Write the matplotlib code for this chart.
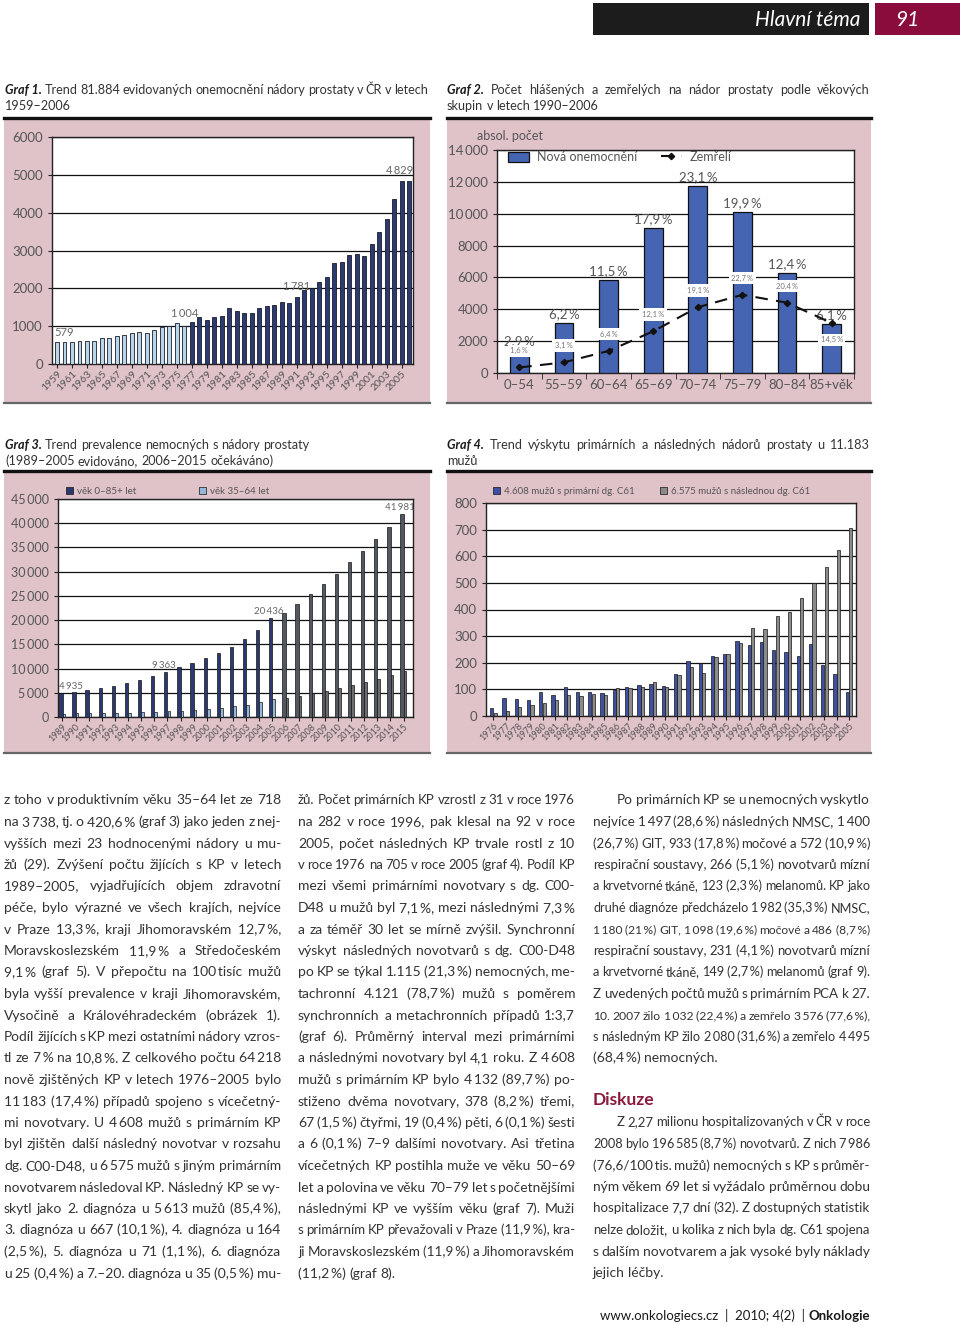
import matplotlib.pyplot as plt
from matplotlib.patches import Rectangle, Patch
from matplotlib.lines import Line2D
from matplotlib.ticker import FuncFormatter

plt.rcParams['font.family'] = ['Lato', 'DejaVu Sans']

W, H = 960, 1325
PINK = '#e0c2c9'
TXT = '#333333'
TICK = '#555555'
CRIMSON = '#8b1a3d'

# Graf 1 - incidence 1959-2006
years1 = list(range(1959, 2007))
cases1 = [579, 575, 580, 600, 620, 620, 680, 690, 730, 770, 810, 840, 830, 900, 970, 1000, 1080, 1004,
          1120, 1250, 1150, 1240, 1270, 1470, 1390, 1350, 1360, 1490, 1530, 1560, 1640, 1610, 1781,
          1950, 2000, 2180, 2290, 2660, 2700, 2890, 2900, 2850, 3180, 3480, 3820, 4350, 4850, 4829]
labelled1 = [1959, 1976, 1991, 2006]

# Graf 2 - age groups
age_groups = ['0–54', '55–59', '60–64', '65–69', '70–74', '75–79', '80–84', '85+věk']
new_cases = [1470, 3150, 5850, 9100, 11750, 10100, 6300, 3100]
new_pct = [2.9, 6.2, 11.5, 17.9, 23.1, 19.9, 12.4, 6.1]
deaths = [346, 670, 1384, 2617, 4131, 4910, 4412, 3136]
death_pct = [1.6, 3.1, 6.4, 12.1, 19.1, 22.7, 20.4, 14.5]

# Graf 3 - prevalence 1989-2015 (2006+ expected)
years3 = list(range(1989, 2016))
prev_all = [4935, 5100, 5500, 6000, 6500, 7000, 7600, 8500, 9363, 10300, 11200, 12100, 13200, 14400,
            16000, 17900, 20436, 21400, 23300, 25300, 27400, 29500, 31900, 34200, 36700, 39300, 41981]
prev_3564 = [718, 750, 760, 800, 850, 900, 1000, 1050, 1200, 1300, 1450, 1600, 1800, 2200,
             2500, 3000, 3738, 3900, 4400, 4950, 5440, 5990, 6680, 7230, 7850, 8670, 9430]
labelled3 = [1989, 1997, 2005, 2015]

# Graf 4 - primary vs following tumours 1976-2005
years4 = list(range(1976, 2006))
primary4 = [31, 68, 62, 60, 92, 78, 110, 90, 90, 88, 97, 108, 118, 122, 113, 158, 205, 200, 225, 232,
            282, 265, 277, 247, 240, 226, 272, 193, 158, 92]
following4 = [10, 20, 32, 40, 48, 60, 78, 75, 84, 80, 104, 107, 110, 129, 108, 153, 183, 160, 220, 233,
              273, 332, 326, 377, 389, 445, 500, 560, 624, 705]

fig = plt.figure(figsize=(W / 100, H / 100), dpi=100)
fig.patch.set_facecolor('white')
renderer = fig.canvas.get_renderer()


def fx(x):
    return x / W


def fy(y):
    return 1 - y / H


def px_rect(x0, y0, x1, y1, color):
    fig.add_artist(Rectangle((fx(x0), fy(y1)), (x1 - x0) / W, (y1 - y0) / H,
                             transform=fig.transFigure, facecolor=color, edgecolor='none', zorder=0))


def px_hline(x0, x1, y, color, lw):
    fig.add_artist(Line2D([fx(x0), fx(x1)], [fy(y), fy(y)], transform=fig.transFigure, color=color, lw=lw))


def px_axes(x0, y0, x1, y1):
    return fig.add_axes([fx(x0), fy(y1), (x1 - x0) / W, (y1 - y0) / H])


def measure(s, kw):
    t = fig.text(0, 0, s, **kw)
    w = t.get_window_extent(renderer=renderer).width
    t.remove()
    return w


def put_line(line, x0, y, x1=None, size=10.0, color=TXT, lead=None):
    "Draw one line of words, justified between x0 and x1 if x1 is given"
    words = [(w.replace('_', '\u2009'), {}) for w in line.split(' ') if w]
    if lead:
        words = [(lead, dict(fontweight='bold', fontstyle='italic', color='#1a1a1a'))] + words

    def parts(sz):
        out = []
        for s, extra in words:
            kw = dict(fontsize=sz, color=color)
            kw.update(extra)
            out.append((s, kw, measure(s, kw)))
        return out

    items = parts(size)
    space = measure('a a', dict(fontsize=size)) - measure('aa', dict(fontsize=size))
    if x1 is not None and len(items) > 1:
        need = sum(i[2] for i in items) + 0.8 * space * (len(items) - 1)
        if need > x1 - x0:
            size = size * (x1 - x0) / need
            items = parts(size)
        gap = (x1 - x0 - sum(i[2] for i in items)) / (len(items) - 1)
    else:
        gap = space
    x = x0
    for s, kw, w in items:
        fig.text(fx(x), fy(y), s, ha='left', va='baseline', **kw)
        x += w + gap


def thin(v):
    return f'{v:,}'.replace(',', '\u2009')


def pct(v):
    return f'{v:.1f}'.replace('.', ',') + '\u2009%'


def style_axes(ax):
    ax.set_facecolor('white')
    for s in ax.spines.values():
        s.set_color('#222222')
        s.set_linewidth(1.0)
    ax.yaxis.grid(True, color='#111111', lw=0.9)
    ax.set_axisbelow(True)
    ax.tick_params(colors=TICK, labelsize=9.5, length=3, width=0.8)
    ax.tick_params(color='#222222')


# header
px_rect(593, 3, 869, 35, '#1c1c1c')
px_rect(875, 3, 960, 35, '#8a0c3c')
fig.text(fx(860), fy(19.5), 'Hlavní téma', ha='right', va='center', color='white', fontsize=15, fontstyle='italic')
fig.text(fx(907), fy(19.5), '91', ha='center', va='center', color='white', fontsize=15, fontstyle='italic')

# chart panels
for (x0, x1, y0, y1) in [(4, 430, 118, 403), (447, 871, 118, 403), (4, 430, 472, 753), (447, 871, 472, 753)]:
    px_rect(x0, y0, x1, y1, PINK)
    px_hline(x0, x1, y0 - 0.5, '#111111', 2.4)
    px_hline(x0, x1, y1, '#666666', 1.6)

# captions
CAP = 9.1
put_line('Trend 81.884 evidovaných onemocnění nádory prostaty v ČR v letech', 5, 94, 428, size=CAP, lead='Graf 1.')
put_line('1959–2006', 5, 110, size=CAP)
put_line('Počet hlášených a zemřelých na nádor prostaty podle věkových', 447, 94, 870, size=CAP, lead='Graf 2.')
put_line('skupin v letech 1990–2006', 447, 110, size=CAP)
put_line('Trend prevalence nemocných s nádory prostaty', 5, 449, size=CAP, lead='Graf 3.')
put_line('(1989–2005 evidováno, 2006–2015 očekáváno)', 5, 465, size=CAP)
put_line('Trend výskytu primárních a následných nádorů prostaty u 11.183', 447, 449, 870, size=CAP, lead='Graf 4.')
put_line('mužů', 447, 465, size=CAP)

# ---- Graf 1
ax1 = px_axes(52, 137, 413, 364)
style_axes(ax1)
c1 = ['#b9d5ea' if y <= 1976 else '#2b3a70' for y in years1]
ax1.bar(years1, cases1, width=0.53, color=c1, edgecolor='#1b1b2b', linewidth=0.6, zorder=3)
ax1.set_xlim(1958.33, 2006.53)
ax1.set_ylim(0, 6000)
ax1.set_yticks(range(0, 6001, 1000))
ax1.set_xticks(years1[::2])
ax1.set_xticklabels([str(y) for y in years1[::2]], rotation=45, ha='right', rotation_mode='anchor', fontsize=7.5)
ax1.tick_params(axis='x', pad=1)
for y in labelled1:
    v = cases1[years1.index(y)]
    ha = 'left' if y == years1[0] else ('right' if y == years1[-1] else 'center')
    xo = -0.4 if ha == 'left' else (0.5 if ha == 'right' else 0)
    top = max(cases1[max(0, years1.index(y) - 1):years1.index(y) + 1])
    ax1.annotate(thin(v), (y + xo, top), xytext=(0, 3), textcoords='offset points',
                 ha=ha, va='bottom', fontsize=8, color='#666666')

# ---- Graf 2
ax2 = px_axes(497, 150, 854, 373)
style_axes(ax2)
xs = list(range(len(age_groups)))
bars2 = ax2.bar(xs, new_cases, width=0.42, color='#4565b3', edgecolor='#111111', linewidth=0.9, zorder=3,
                label='Nová onemocnění')
line2, = ax2.plot(xs, deaths, color='#111111', ls=(0, (6, 4)), lw=1.5, marker='D', ms=3.2, zorder=5,
                  label='Zemřelí')
ax2.set_xlim(-0.5, 7.5)
ax2.set_ylim(0, 14000)
ax2.set_yticks(range(0, 14001, 2000))
ax2.yaxis.set_major_formatter(FuncFormatter(lambda v, p: thin(int(v)) if v >= 10000 else f'{int(v)}'))
ax2.set_xticks(xs)
ax2.set_xticklabels(age_groups, fontsize=9.5)
ax2.set_xticks([i - 0.5 for i in range(len(age_groups) + 1)], minor=True)
ax2.tick_params(axis='x', which='major', length=0, pad=4)
ax2.tick_params(axis='x', which='minor', length=4, color='#222222')
for i in xs:
    ax2.annotate(pct(new_pct[i]), (i, new_cases[i]), xytext=(0, 2), textcoords='offset points',
                 ha='center', va='bottom', fontsize=9.5, color='#555555')
    above = deaths[i] < 0.8 * new_cases[i]
    ax2.annotate(pct(death_pct[i]), (i, deaths[i]), xytext=(0, 12 if above else -12),
                 textcoords='offset points', ha='center', va='center', fontsize=5.5, color='#777777',
                 zorder=6, bbox=dict(boxstyle='square,pad=0.35', fc='white', ec='none'))
ax2.text(-0.056, 1.063, 'absol. počet', transform=ax2.transAxes, ha='left', va='center',
         fontsize=9, color='#555555')
ax2.legend(handles=[bars2, line2], loc='upper left', bbox_to_anchor=(0.031, 0.995), ncol=2, frameon=False,
           fontsize=9, labelcolor='#555555', borderpad=0, borderaxespad=0, handlelength=1.7, handleheight=0.9,
           handletextpad=0.6, columnspacing=1.9)

# ---- Graf 3
ax3 = px_axes(58, 499, 413, 717)
style_axes(ax3)
ax3.tick_params(axis='y', labelsize=9)
obs = [y <= 2005 for y in years3]
ax3.bar([y - 0.12 for y in years3], prev_all, width=0.25,
        color=['#2c3872' if o else '#535761' for o in obs], edgecolor='#151515', linewidth=0.5, zorder=3)
ax3.bar([y + 0.11 for y in years3], prev_3564, width=0.2,
        color=['#93b8d8' if o else '#6d6d6d' for o in obs], edgecolor='#151515', linewidth=0.5, zorder=3)
ax3.set_xlim(1988.66, 2015.72)
ax3.set_ylim(0, 45000)
ax3.set_yticks(range(0, 45001, 5000))
ax3.yaxis.set_major_formatter(FuncFormatter(lambda v, p: thin(int(v))))
ax3.set_xticks(years3)
ax3.set_xticklabels([str(y) for y in years3], rotation=45, ha='right', rotation_mode='anchor', fontsize=6.5)
ax3.tick_params(axis='x', pad=1)
for y in labelled3:
    v = prev_all[years3.index(y)]
    ha = 'left' if y == years3[0] else 'center'
    ax3.annotate(thin(v), (y - 0.25 if ha == 'left' else y - 0.3, v), xytext=(0, 1.5), textcoords='offset points',
                 ha=ha, va='bottom', fontsize=7, color='#666666')
lg3a = ax3.legend(handles=[Patch(facecolor='#2c3872', edgecolor='#151515', lw=0.5, label='věk 0–85+ let')],
                  loc='lower left', bbox_to_anchor=(0.0225, 1.015), frameon=False, fontsize=7,
                  labelcolor='#555555', borderpad=0, borderaxespad=0, handlelength=0.7, handleheight=0.7,
                  handletextpad=0.4)
ax3.add_artist(lg3a)
ax3.legend(handles=[Patch(facecolor='#93b8d8', edgecolor='#151515', lw=0.5, label='věk 35–64 let')],
           loc='lower left', bbox_to_anchor=(0.397, 1.015), frameon=False, fontsize=7,
           labelcolor='#555555', borderpad=0, borderaxespad=0, handlelength=0.7, handleheight=0.7,
           handletextpad=0.4)

# ---- Graf 4
ax4 = px_axes(486, 503, 856, 716)
style_axes(ax4)
ax4.bar([y - 0.14 for y in years4], primary4, width=0.27, color='#3d50a4', edgecolor='#151515',
        linewidth=0.5, zorder=3)
ax4.bar([y + 0.14 for y in years4], following4, width=0.27, color='#8b8b8b', edgecolor='#151515',
        linewidth=0.5, zorder=3)
ax4.set_xlim(1975.39, 2005.57)
ax4.set_ylim(0, 800)
ax4.set_yticks(range(0, 801, 100))
ax4.set_xticks(years4)
ax4.set_xticklabels([str(y) for y in years4], rotation=45, ha='right', rotation_mode='anchor', fontsize=6.5)
ax4.tick_params(axis='x', pad=1)
lg4a = ax4.legend(handles=[Patch(facecolor='#3d50a4', edgecolor='#151515', lw=0.5,
                                 label='4.608 mužů s primární dg. C61')],
                  loc='lower left', bbox_to_anchor=(0.019, 1.035), frameon=False, fontsize=7,
                  labelcolor='#555555', borderpad=0, borderaxespad=0, handlelength=0.7, handleheight=0.7,
                  handletextpad=0.4)
ax4.add_artist(lg4a)
ax4.legend(handles=[Patch(facecolor='#8b8b8b', edgecolor='#151515', lw=0.5, label='6.575 mužů s následnou dg. C61')],
           loc='lower left', bbox_to_anchor=(0.470, 1.035), frameon=False, fontsize=7,
           labelcolor='#555555', borderpad=0, borderaxespad=0, handlelength=0.7, handleheight=0.7,
           handletextpad=0.4)

# ---- body text (three justified columns)
col1 = [
    'z toho v produktivním věku 35–64 let ze 718',
    'na 3_738, tj. o 420,6_% (graf 3) jako jeden z nej-',
    'vyšších mezi 23 hodnocenými nádory u mu-',
    'žů (29). Zvýšení počtu žijících s KP v letech',
    '1989–2005, vyjadřujících objem zdravotní',
    'péče, bylo výrazné ve všech krajích, nejvíce',
    'v Praze 13,3_%, kraji Jihomoravském 12,7_%,',
    'Moravskoslezském 11,9_% a Středočeském',
    '9,1_% (graf 5). V přepočtu na 100_tisíc mužů',
    'byla vyšší prevalence v kraji Jihomoravském,',
    'Vysočině a Královéhradeckém (obrázek 1).',
    'Podíl žijících s_KP mezi ostatními nádory vzros-',
    'tl ze 7_% na 10,8_%. Z celkového počtu 64_218',
    'nově zjištěných KP v letech 1976–2005 bylo',
    '11_183 (17,4_%) případů spojeno s vícečetný-',
    'mi novotvary. U 4_608 mužů s primárním KP',
    'byl zjištěn další následný novotvar v rozsahu',
    'dg. C00-D48, u 6_575 mužů s jiným primárním',
    'novotvarem následoval KP. Následný KP se vy-',
    'skytl jako 2. diagnóza u 5_613 mužů (85,4_%),',
    '3. diagnóza u 667 (10,1_%), 4. diagnóza u 164',
    '(2,5_%), 5. diagnóza u 71 (1,1_%), 6. diagnóza',
    'u 25 (0,4_%) a 7.–20. diagnóza u 35 (0,5_%) mu-',
]
col2 = [
    'žů. Počet primárních KP vzrostl z 31 v roce 1976',
    'na 282 v roce 1996, pak klesal na 92 v roce',
    '2005, počet následných KP trvale rostl z 10',
    'v roce 1976 na 705 v roce 2005 (graf 4). Podíl KP',
    'mezi všemi primárními novotvary s dg. C00-',
    'D48 u mužů byl 7,1_%, mezi následnými 7,3_%',
    'a za téměř 30 let se mírně zvýšil. Synchronní',
    'výskyt následných novotvarů s dg. C00-D48',
    'po KP se týkal 1.115 (21,3_%) nemocných, me-',
    'tachronní 4.121 (78,7_%) mužů s poměrem',
    'synchronních a metachronních případů 1:3,7',
    '(graf 6). Průměrný interval mezi primárními',
    'a následnými novotvary byl 4,1 roku. Z 4_608',
    'mužů s primárním KP bylo 4_132 (89,7_%) po-',
    'stiženo dvěma novotvary, 378 (8,2_%) třemi,',
    '67 (1,5_%) čtyřmi, 19 (0,4_%) pěti, 6 (0,1_%) šesti',
    'a 6 (0,1_%) 7–9 dalšími novotvary. Asi třetina',
    'vícečetných KP postihla muže ve věku 50–69',
    'let a polovina ve věku 70–79 let s početnějšími',
    'následnými KP ve vyšším věku (graf 7). Muži',
    's primárním KP převažovali v Praze (11,9_%), kra-',
    'ji Moravskoslezském (11,9_%) a Jihomoravském',
    '(11,2_%) (graf 8).',
]
col3a = [
    'Po primárních KP se u nemocných vyskytlo',
    'nejvíce 1_497 (28,6_%) následných NMSC, 1_400',
    '(26,7_%) GIT, 933 (17,8_%) močové a 572 (10,9_%)',
    'respirační soustavy, 266 (5,1_%) novotvarů mízní',
    'a krvetvorné tkáně, 123 (2,3_%) melanomů. KP jako',
    'druhé diagnóze předcházelo 1_982 (35,3_%) NMSC,',
    '1_180 (21_%) GIT, 1_098 (19,6_%) močové a 486 (8,7_%)',
    'respirační soustavy, 231 (4,1_%) novotvarů mízní',
    'a krvetvorné tkáně, 149 (2,7_%) melanomů (graf 9).',
    'Z uvedených počtů mužů s primárním PCA k 27.',
    '10. 2007 žilo 1_032 (22,4_%) a zemřelo 3_576 (77,6_%),',
    's následným KP žilo 2_080 (31,6_%) a zemřelo 4_495',
    '(68,4_%) nemocných.',
]
col3b = [
    'Z 2,27 milionu hospitalizovaných v ČR v roce',
    '2008 bylo 196_585 (8,7_%) novotvarů. Z nich 7_986',
    '(76,6/100_tis. mužů) nemocných s KP s průměr-',
    'ným věkem 69 let si vyžádalo průměrnou dobu',
    'hospitalizace 7,7 dní (32). Z dostupných statistik',
    'nelze doložit, u kolika z nich byla dg. C61 spojena',
    's dalším novotvarem a jak vysoké byly náklady',
    'jejich léčby.',
]

LH = 21.5
for i, line in enumerate(col1):
    put_line(line, 4, 804.5 + i * LH, 281)
for i, line in enumerate(col2):
    put_line(line, 298, 804.5 + i * LH, None if i == len(col2) - 1 else 575)
for i, line in enumerate(col3a):
    x0 = 617 if i == 0 else 593
    put_line(line, x0, 804.5 + i * LH, None if i == len(col3a) - 1 else 870)
fig.text(fx(593), fy(1105), 'Diskuze', ha='left', va='baseline', fontsize=12.5, fontweight='bold', color=CRIMSON)
for i, line in enumerate(col3b):
    x0 = 617 if i == 0 else 593
    put_line(line, x0, 1126.5 + i * LH, None if i == len(col3b) - 1 else 870)

# footer
bold_kw = dict(fontsize=9.5, fontweight='bold', color='#1a1a1a')
wb = measure('Onkologie', bold_kw)
fig.text(fx(870), fy(1320), 'Onkologie', ha='right', va='baseline', **bold_kw)
fig.text(fx(870 - wb - 4), fy(1320), 'www.onkologiecs.cz  |  2010; 4(2)  |', ha='right', va='baseline',
         fontsize=9.5, color='#1a1a1a')

fig.savefig('out.png', dpi=100, facecolor='white')
